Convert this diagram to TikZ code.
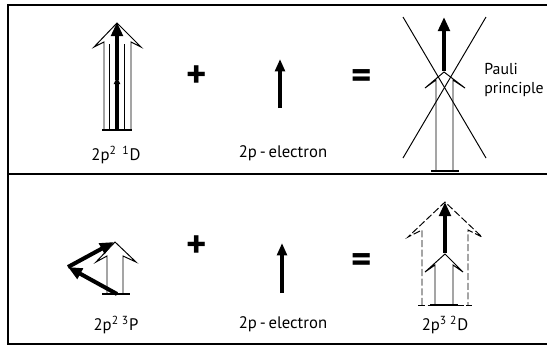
\documentclass[tikz,border=0pt]{standalone}
\usepackage{fontspec}
\setmainfont{PT Sans}
\usetikzlibrary{arrows.meta, positioning}

\begin{document}
\begin{tikzpicture}[x=0.02cm, y=-0.02cm]
  \tikzstyle{frame} = [line width=0.9pt]
  \tikzstyle{outline} = [line width=0.55pt, line join=miter]
  \tikzstyle{spin} = [line width=2.3pt, -{Triangle[length=8pt, width=6.5pt]}]
  \tikzstyle{halfspin} = [line width=2.3pt, -{Triangle[length=4pt, width=3.5pt]}]
  \tikzstyle{electron} = [line width=1.8pt, -{Triangle[length=7pt, width=5.5pt]}]
  \tikzstyle{term} = [font=\fontsize{9.5}{11}\selectfont, inner sep=1pt]
  \tikzstyle{op} = [font=\fontsize{22}{22}\selectfont\bfseries]

  \useasboundingbox (0,0) rectangle (547,346);

  % frame
  \draw[frame] (547,5) -- (8,5) -- (8,344) -- (547,344);
  \draw[frame] (8,174) -- (547,174);

  % ---- upper row: 2p^2 1D + e = forbidden
  \draw[outline] (104,130) -- (104,42) -- (94,47) -- (117,23) -- (141,47) -- (131,42) -- (131,130);
  \draw[outline] (109,130) -- (109,44);
  \draw[outline] (124,130) -- (124,44);
  \draw[line width=1.2pt] (102,130) -- (132,130);
  \draw[halfspin] (117,130) -- (117,77);
  \draw[spin] (117,80) -- (117,22);
  \node[term] (termD) at (116,155) {2p\textsuperscript{2}\,\,\textsuperscript{1}D};

  \node[op] (plusA) at (197,77) {+};
  \draw[electron] (280,108) -- (280,59);
  \node[term] (elecA) at (283,153) {2p\,-\,electron};
  \node[op] (eqA) at (362,79) {=};

  \draw[outline] (436,171) -- (436,80) -- (425,88) -- (444,72) -- (465,88) -- (453,80) -- (453,171);
  \draw[line width=1.2pt] (431,171) -- (459,171);
  \draw[spin] (444,71) -- (444,17);
  \draw[outline] (403,17) -- (486,158);
  \draw[outline] (486,17) -- (403,158);
  \node[term, font=\fontsize{9}{11}\selectfont, inner sep=0pt, anchor=west, align=left] (pauli) at (484,80) {Pauli\\principle};

  % ---- lower row: 2p^2 3P + e = 2p^3 2D
  \draw[outline] (107,294) -- (107,256) -- (96,262) -- (115,242) -- (136,262) -- (123,256) -- (123,294);
  \draw[line width=1.2pt] (102,294) -- (130,294);
  \draw[spin] (117,294) -- (68,267);
  \draw[spin] (68,267) -- (114,242);
  \node[term] (termP) at (116,325) {2p\textsuperscript{2}\,\textsuperscript{3}P};

  \node[op] (plusB) at (197,247) {+};
  \draw[electron] (282,293) -- (282,243);
  \node[term] (elecB) at (283,324) {2p\,-\,electron};
  \node[op] (eqB) at (362,263) {=};

  \draw[outline, dash pattern=on 4pt off 1.5pt] (422,305) -- (422,230) -- (408,237) -- (445,202) -- (482,237) -- (468,230) -- (468,305);
  \draw[outline, dash pattern=on 4pt off 1.5pt] (418,305) -- (472,305);
  \draw[outline] (435,305) -- (435,265) -- (425,272) -- (445,254) -- (463,272) -- (453,265) -- (453,305);
  \draw[line width=1.2pt] (430,305) -- (458,305);
  \draw[spin] (445,253) -- (445,202);
  \node[term] (termDD) at (445,325) {2p\textsuperscript{3}\,\textsuperscript{2}D};
\end{tikzpicture}
\end{document}
